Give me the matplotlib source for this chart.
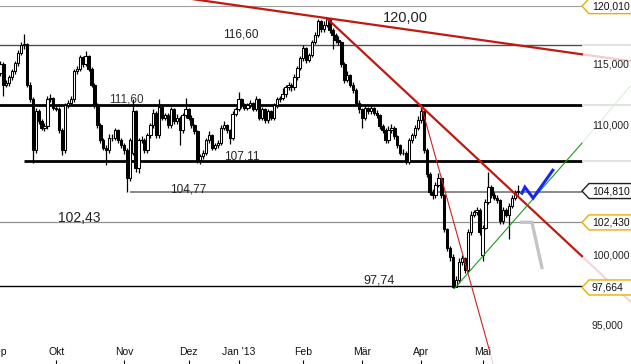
import numpy as np
import pandas as pd
import matplotlib
matplotlib.use("Agg")
import matplotlib.pyplot as plt
from matplotlib.patches import Polygon
from matplotlib.transforms import IdentityTransform

plt.rcParams['font.family'] = ['Liberation Sans', 'DejaVu Sans']

# Xetra trading calendar, first candle 2012-09-04
holidays = ['2012-12-24', '2012-12-25', '2012-12-26', '2012-12-31',
            '2013-01-01', '2013-03-29', '2013-04-01', '2013-05-01']
month_names = ['Sep', 'Okt', 'Nov', 'Dez', "Jan '13", 'Feb', 'Mär', 'Apr', 'Mai']

opens = [
    114.3, 115.0, 113.3, 113.4, 113.9, 114.4, 115.1, 116.0, 116.6, 116.7,
    113.3, 112.1, 108.0, 111.1, 110.3, 109.8, 109.9, 112.1, 112.2, 111.4,
    111.3, 109.6, 108.0, 111.6, 111.8, 112.1, 114.4, 114.6, 115.6, 115.0,
    115.7, 114.6, 113.3, 111.6, 110.0, 108.8, 108.2, 108.0, 109.0, 109.0,
    109.6, 108.8, 108.4, 108.0, 105.8, 107.8, 111.1, 106.6, 108.8, 108.8,
    108.0, 109.2, 110.0, 111.0, 109.2, 111.5, 110.6, 110.8, 110.0, 111.3,
    110.3, 110.6, 109.6, 110.8, 111.3, 110.6, 110.0, 109.5, 107.2, 107.5,
    107.8, 108.8, 109.2, 108.2, 108.4, 108.6, 109.8, 110.0, 109.6, 109.0,
    110.9, 111.3, 112.1, 111.6, 111.4, 111.6, 111.8, 111.3, 112.1, 110.6,
    111.3, 110.4, 111.1, 110.6, 111.6, 112.1, 112.2, 112.5, 113.1, 113.3,
    113.1, 113.9, 114.7, 115.5, 116.4, 115.4, 115.8, 116.9, 117.5, 118.7,
    118.0, 118.4, 118.9, 117.9, 117.5, 117.1, 116.9, 115.0, 113.7, 114.1,
    113.3, 112.9, 111.8, 111.3, 110.6, 111.4, 111.1, 111.4, 111.0, 110.8,
    109.9, 109.6, 108.8, 109.6, 109.8, 109.1, 108.4, 107.8, 107.8, 107.1,
    108.8, 109.2, 109.8, 110.4, 111.1, 108.0, 106.1, 104.7, 104.5, 105.3,
    105.8, 104.5, 101.9, 100.5, 99.9, 97.7, 98.2, 99.5, 99.8, 98.9,
    101.7, 103.0, 103.2, 103.4, 100.0, 102.0, 104.0, 105.1, 104.5, 104.3,
    104.1, 102.5, 103.4, 103.0, 103.7, 104.3, 104.7]
highs = [
    115.3, 115.2, 113.7, 114.1, 114.6, 115.3, 116.2, 116.9, 117.6, 116.8,
    113.5, 112.3, 111.4, 111.3, 110.5, 110.2, 112.4, 112.5, 112.3, 111.6,
    111.5, 109.8, 111.8, 112.0, 112.4, 114.6, 114.9, 115.8, 115.7, 116.1,
    115.8, 114.8, 113.4, 111.8, 110.2, 109.0, 108.4, 109.3, 109.3, 109.8,
    109.7, 109.0, 108.6, 108.2, 109.0, 112.1, 111.2, 109.0, 109.1, 109.0,
    109.4, 110.2, 111.3, 111.1, 112.1, 111.6, 111.0, 111.0, 111.5, 111.4,
    110.9, 110.7, 111.0, 112.2, 111.4, 110.8, 110.1, 109.6, 107.7, 108.0,
    109.0, 109.5, 109.3, 108.6, 108.8, 110.0, 110.3, 110.1, 109.7, 111.1,
    111.5, 112.7, 112.2, 111.8, 111.8, 112.0, 111.9, 112.4, 112.2, 111.5,
    111.4, 111.3, 111.2, 111.8, 112.3, 112.4, 113.0, 113.3, 113.5, 113.4,
    114.2, 114.9, 115.7, 116.6, 116.5, 116.0, 117.1, 117.8, 118.85, 118.8,
    118.7, 118.95, 118.9, 118.1, 117.7, 117.4, 117.0, 115.2, 114.4, 114.2,
    113.5, 113.0, 112.0, 111.4, 111.7, 111.5, 111.6, 111.5, 111.2, 110.9,
    110.1, 109.8, 109.9, 110.1, 109.9, 109.2, 108.5, 108.1, 107.9, 109.0,
    109.4, 110.0, 110.7, 111.6, 111.2, 108.2, 106.3, 105.0, 105.5, 106.2,
    105.9, 104.6, 102.0, 100.7, 100.1, 98.5, 99.8, 100.0, 99.9, 101.9,
    103.3, 103.4, 103.6, 103.5, 102.2, 104.2, 106.3, 105.3, 104.7, 104.5,
    104.2, 103.6, 103.5, 103.9, 104.5, 104.9, 105.3]
lows = [
    114.0, 112.4, 113.1, 113.2, 113.7, 114.2, 114.9, 115.8, 116.3, 113.1,
    111.9, 107.0, 107.8, 110.1, 109.6, 109.5, 109.7, 111.9, 111.2, 111.1,
    109.4, 107.6, 107.8, 111.4, 111.6, 111.9, 114.2, 114.4, 114.8, 114.9,
    114.4, 113.1, 111.4, 109.8, 108.6, 108.0, 106.8, 107.8, 108.7, 108.8,
    108.6, 108.2, 107.7, 104.77, 105.6, 107.6, 106.3, 106.2, 108.6, 107.8,
    107.8, 109.0, 109.8, 109.0, 109.0, 110.4, 110.4, 109.8, 109.8, 110.1,
    110.1, 108.4, 109.4, 110.6, 110.4, 109.8, 109.3, 107.0, 106.9, 107.3,
    107.6, 108.6, 108.0, 108.0, 108.2, 108.4, 109.6, 109.4, 108.5, 108.8,
    110.7, 111.1, 111.4, 111.2, 111.2, 111.4, 111.1, 111.1, 110.4, 110.4,
    110.2, 110.2, 110.4, 110.4, 111.4, 111.9, 112.0, 112.3, 112.9, 112.8,
    112.9, 113.7, 114.5, 115.3, 115.1, 115.2, 115.6, 116.7, 117.3, 117.8,
    117.8, 118.2, 117.7, 116.3, 116.8, 116.6, 114.8, 113.4, 113.5, 113.1,
    112.6, 111.6, 111.0, 109.8, 110.4, 110.9, 110.9, 110.8, 110.6, 109.7,
    109.4, 108.6, 108.6, 109.4, 108.9, 108.2, 107.6, 107.6, 106.9, 106.9,
    108.6, 109.0, 109.6, 110.2, 107.8, 105.9, 104.5, 104.2, 104.3, 105.1,
    104.3, 101.7, 100.3, 99.6, 97.66, 97.7, 98.0, 99.3, 98.7, 98.8,
    101.5, 102.8, 103.0, 101.5, 99.6, 101.9, 103.8, 104.3, 104.1, 103.9,
    102.3, 102.3, 102.8, 101.2, 103.5, 104.1, 104.5]
closes = [
    115.0, 113.3, 113.4, 113.9, 114.4, 115.1, 116.0, 116.6, 116.7, 113.3,
    112.1, 108.0, 111.1, 110.3, 109.8, 109.9, 112.1, 112.2, 111.4, 111.3,
    109.6, 108.0, 111.6, 111.8, 112.1, 114.4, 114.6, 115.6, 115.0, 115.7,
    114.6, 113.3, 111.6, 110.0, 108.8, 108.2, 108.0, 109.0, 109.0, 109.6,
    108.8, 108.4, 108.0, 105.8, 108.8, 111.1, 106.6, 108.8, 108.8, 108.0,
    109.2, 110.0, 111.0, 109.2, 111.5, 110.6, 110.8, 110.0, 111.3, 110.3,
    110.6, 109.6, 110.8, 111.3, 110.6, 110.0, 109.5, 107.2, 107.5, 107.8,
    108.8, 109.2, 108.2, 108.4, 108.6, 109.8, 110.0, 109.6, 109.0, 110.9,
    111.3, 112.1, 111.6, 111.4, 111.6, 111.8, 111.3, 112.1, 110.6, 111.3,
    110.4, 111.1, 110.6, 111.6, 112.1, 112.2, 112.5, 113.1, 113.3, 113.1,
    113.9, 114.7, 115.5, 116.4, 115.4, 115.8, 116.9, 117.5, 118.7, 118.0,
    118.4, 118.9, 117.9, 117.5, 117.1, 116.9, 115.0, 113.7, 114.1, 113.3,
    112.9, 111.8, 111.3, 110.6, 111.4, 111.1, 111.4, 111.0, 110.8, 109.9,
    109.6, 108.8, 109.6, 109.8, 109.1, 108.4, 107.8, 107.8, 107.1, 108.8,
    109.2, 109.8, 110.4, 111.1, 108.0, 106.1, 104.7, 104.5, 105.3, 105.8,
    104.5, 101.9, 100.5, 99.9, 97.7, 98.2, 99.5, 99.8, 98.9, 101.7,
    103.0, 103.2, 103.4, 101.7, 102.0, 104.0, 105.1, 104.5, 104.3, 104.1,
    102.5, 103.4, 103.0, 103.7, 104.3, 104.7, 104.81]

# horizontal levels and their labels
level_values = [120.01, 116.60, 111.60, 107.11, 104.77, 102.43, 97.74]
level_texts = ['120,00', '116,60', '111,60', '107,11', '104,77', '102,43', '97,74']

# right hand price scale
axis_ticks = [115, 110, 100, 95]
marker_values = [120.01, 104.81, 102.43, 97.664]
marker_texts = ['120,010', '104,810', '102,430', '97,664']

# trend lines (candle index, price)
res_long = ([64, 197.8], [120.68, 115.85])
res_short = ([111, 197.8], [118.95, 99.93])
res_steep = ([143.1, 166.5], [111.6, 93.16])
support = ([154.5, 197.8], [97.6, 108.55])
check_up = ([177.4, 178.4, 181.2, 187.9], [104.65, 105.11, 104.27, 106.42])
check_down = ([177.4, 180.8, 184.2], [102.44, 102.44, 99.1])

dates = pd.bdate_range('2012-09-03', periods=len(closes) + 1, freq='C', holidays=holidays)

fig = plt.figure(figsize=(6.31, 3.64), dpi=100)
ax = fig.add_axes([0, 0, 1, 1])
ax.set_yscale('log')
ax.set_xlim(-0.136, 214.5)
ax.set_ylim(92.34, 120.55)
ax.set_axis_off()

x_end = 197.8   # right edge of the price area
x_far = 214.5
x_lab = 201.2   # left edge of the right hand labels

# horizontal levels
ax.hlines(level_values[0], -1, x_end, color='#a0a0a0', lw=0.8, zorder=1)
ax.hlines(level_values[1], -1, x_end, color='#505050', lw=1.0, zorder=1)
ax.hlines(level_values[2], -1, x_end, color='black', lw=2.0, zorder=1)
ax.hlines(level_values[3], 8.0, x_end, color='black', lw=2.0, zorder=1)
ax.hlines(level_values[4], 44.1, x_end, color='#808080', lw=1.3, zorder=1)
ax.hlines(level_values[5], -1, x_end, color='#909090', lw=0.9, zorder=1)
ax.hlines(level_values[6], -1, x_end, color='black', lw=1.0, zorder=1)
ax.hlines(level_values[1:4], x_end, x_far, color='#e2e2e2', lw=1.5, zorder=1)

# level texts
ax.text(130.1, 118.94, level_texts[0], fontsize=10.5, va='center', color='#222222')
ax.text(75.7, 117.56, level_texts[1], fontsize=8.5, va='center', color='#222222')
ax.text(36.9, 112.06, level_texts[2], fontsize=8.5, va='center', color='#333333')
ax.text(76.1, 107.52, level_texts[3], fontsize=8.5, va='center', color='#222222')
ax.text(57.7, 104.92, level_texts[4], fontsize=8.5, va='center', color='#222222')
ax.text(19.6, 102.78, level_texts[5], fontsize=10.0, va='center', color='#222222')
ax.text(123.3, 98.15, level_texts[6], fontsize=9.0, va='center', color='#222222')

# candles
o = np.array(opens)
h = np.array(highs)
l = np.array(lows)
c = np.array(closes)
x = np.arange(len(c))
up = c >= o
ax.vlines(x, l, h, color='black', lw=0.9, zorder=3)
ax.bar(x, np.abs(c - o), bottom=np.minimum(o, c), width=0.8,
       color=np.where(up, 'white', 'black'), edgecolor='black', linewidth=0.75, zorder=4)

# trend lines
red = '#c01a10'
ax.plot(*res_long, color=red, lw=1.6, zorder=5)
ax.plot(*res_short, color=red, lw=1.6, zorder=5)
ax.plot(*res_steep, color='#d02020', lw=0.8, zorder=5)
ax.plot(*support, color='#1e9a1e', lw=0.8, zorder=5)
ax.plot([197.8, x_far], [115.85, 115.27], color='#f3cccc', lw=1.6, zorder=2)
ax.plot([197.8, x_far], [99.93, 96.62], color='#f6d6d6', lw=1.6, zorder=2)
ax.plot([197.8, x_far], [108.55, 113.25], color='#dcefdc', lw=0.8, zorder=2)
ax.plot([166.5, 167.6], [93.16, 92.3], color='#f3d0d0', lw=0.8, zorder=2)
ax.plot(*check_up, color='#1428f0', lw=2.2, zorder=6, solid_joinstyle='miter')
ax.plot(*check_down, color='#c4c4c4', lw=2.4, zorder=6, solid_joinstyle='miter')

# right price scale
for v in axis_ticks:
    ax.text(x_lab, v, f'{v},000', fontsize=7.5, va='center', ha='left', color='#222222')

fig.canvas.draw()
for v, txt, ec in zip(marker_values, marker_texts, ['#e5b000', '#202020', '#e5b000', '#e5b000']):
    yd = ax.transData.transform((0, v))[1]
    box = Polygon([(582, yd), (589, yd + 7.5), (645, yd + 7.5), (645, yd - 7.5), (589, yd - 7.5)],
                  closed=True, transform=IdentityTransform(), facecolor='white',
                  edgecolor=ec, lw=1.0, clip_on=False, zorder=7)
    ax.add_patch(box)
    ax.text(x_lab, v, txt, fontsize=7.5, va='center', ha='left', color='#111111', zorder=8)

# month labels at the first trading day of each month
starts = [k - 1 for k in range(len(dates)) if k == 0 or dates[k].month != dates[k - 1].month]
xt = ax.get_xaxis_transform()
for pos, name in zip(starts, month_names):
    ax.text(pos, 0.033, name, transform=xt, fontsize=7.5, ha='center', va='center', color='#111111')
ax.vlines(starts, 0, 0.011, transform=xt, color='#111111', lw=0.8)

fig.savefig('out.png', dpi=100)
